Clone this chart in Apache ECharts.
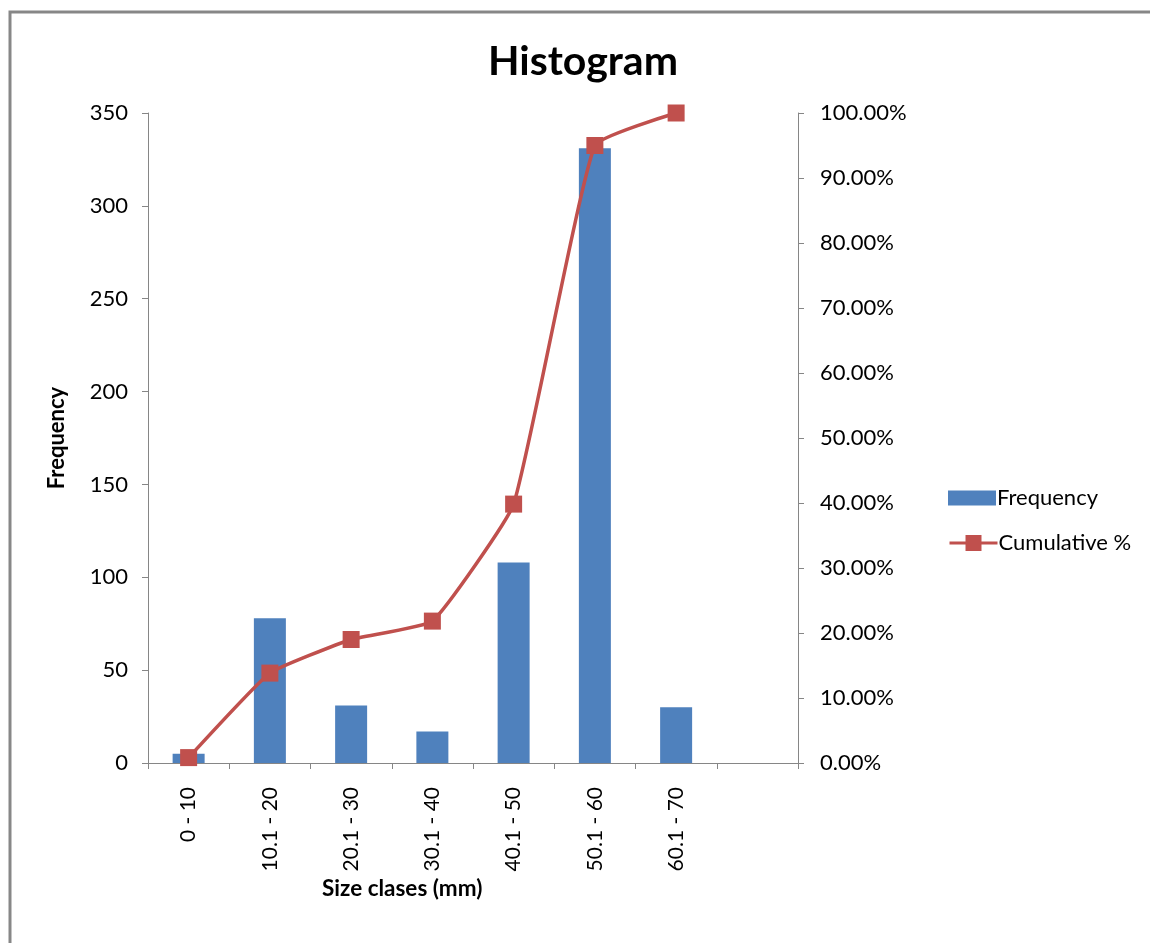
<!DOCTYPE html>
<html>
<head>
<meta charset="utf-8">
<script src="https://cdn.jsdelivr.net/npm/echarts@6/dist/echarts.min.js"></script>
<style>
html,body{margin:0;padding:0;background:#fff;}
#chart{width:1150px;height:943px;}
</style>
</head>
<body>
<div id="chart"></div>
<script>
const categories = ['0 - 10', '10.1 - 20', '20.1 - 30', '30.1 - 40', '40.1 - 50', '50.1 - 60', '60.1 - 70', ''];
const frequency = [5, 78, 31, 17, 108, 331, 30, null];
const cumulativePct = [0.83, 13.83, 19.0, 21.83, 39.83, 95.0, 100.0, null];
const leftTicks = { min: 0, max: 350, interval: 50 };
const rightTicks = { min: 0, max: 100, interval: 10 };

const FONT = 'Lato';
const chart = echarts.init(document.getElementById('chart'), null, { renderer: 'canvas' });
chart.setOption({
  animation: false,
  backgroundColor: '#fff',
  title: {
    text: 'Histogram',
    left: 578, top: 36, textAlign: 'center',
    textStyle: { fontFamily: FONT, fontWeight: 'bold', fontSize: 41, color: '#000' }
  },
  legend: [
    {
      left: 943, top: 482,
      itemWidth: 48, itemHeight: 15,
      textStyle: { fontFamily: FONT, fontSize: 22, color: '#000', padding: [0, 0, 0, -4] },
      data: [{ name: 'Frequency', icon: 'rect' }]
    },
    {
      left: 943, top: 527,
      itemWidth: 48, itemHeight: 20,
      lineStyle: { width: 3 },
      textStyle: { fontFamily: FONT, fontSize: 22, color: '#000', padding: [0, 0, 0, -4] },
      data: [{ name: 'Cumulative %' }]
    }
  ],
  grid: { left: 148, right: 352, top: 113, bottom: 180, containLabel: false },
  xAxis: {
    type: 'category',
    data: categories,
    axisLine: { lineStyle: { color: '#868686', width: 1 } },
    axisTick: { show: true, length: 6, lineStyle: { color: '#868686' } },
    axisLabel: { rotate: 90, margin: 24, fontFamily: FONT, fontSize: 21, color: '#000', interval: 0 }
  },
  yAxis: [
    {
      type: 'value', min: leftTicks.min, max: leftTicks.max, interval: leftTicks.interval,
      splitLine: { show: false },
      axisLine: { show: true, lineStyle: { color: '#868686' } },
      axisTick: { show: true, length: 6, lineStyle: { color: '#868686' } },
      axisLabel: { margin: 20, fontFamily: FONT, fontSize: 22, color: '#000' },
      name: 'Frequency', nameLocation: 'middle', nameGap: 80, nameRotate: 90,
      nameTextStyle: { fontFamily: FONT, fontWeight: 'bold', fontSize: 22, color: '#000' }
    },
    {
      type: 'value', min: rightTicks.min, max: rightTicks.max, interval: rightTicks.interval,
      position: 'right',
      splitLine: { show: false },
      axisLine: { show: true, lineStyle: { color: '#868686' } },
      axisTick: { show: true, length: 6, lineStyle: { color: '#868686' } },
      axisLabel: { margin: 22, fontFamily: FONT, fontSize: 22, color: '#000',
        formatter: v => v.toFixed(2) + '%' }
    }
  ],
  graphic: [
    { type: 'rect', shape: { x: 10, y: 12, width: 1300, height: 1100 },
      style: { fill: 'none', stroke: '#878787', lineWidth: 3 }, silent: true, z: -1 },
    { type: 'text', left: 322, top: 877,
      style: { text: 'Size clases (mm)', fontFamily: FONT, fontWeight: 'bold', fontSize: 22.5, fill: '#000' } }
  ],
  series: [
    {
      name: 'Frequency', type: 'bar', yAxisIndex: 0,
      data: frequency, barWidth: 32,
      itemStyle: { color: '#4F81BD' }
    },
    {
      name: 'Cumulative %', type: 'line', yAxisIndex: 1,
      data: cumulativePct, smooth: 0.12,
      symbol: 'rect', symbolSize: 17,
      lineStyle: { color: '#C0504D', width: 3.5 },
      itemStyle: { color: '#C0504D' }
    }
  ]
});
</script>
</body>
</html>
